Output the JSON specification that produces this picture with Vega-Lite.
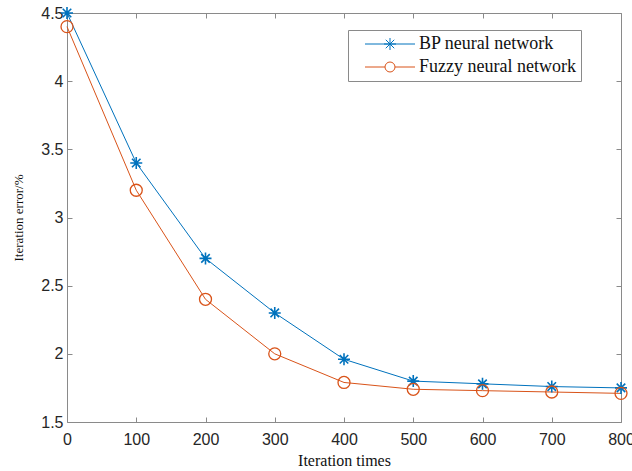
{
  "$schema": "https://vega.github.io/schema/vega-lite/v6.json",
  "width": 554,
  "height": 409,
  "autosize": "none",
  "padding": {"left": 67, "top": 13, "right": 11, "bottom": 49},
  "background": "white",
  "config": {
    "view": {"stroke": null},
    "axis": {
      "grid": false,
      "domainColor": "#8a8a8a",
      "tickColor": "#8a8a8a",
      "labelFont": "Liberation Sans",
      "labelFontSize": 16,
      "labelColor": "#262626",
      "titleFont": "Liberation Serif",
      "titleFontWeight": "normal",
      "titleColor": "#111111"
    }
  },
  "data": {
    "values": [
      {"iter": 0, "err": 4.5, "model": "BP neural network"},
      {"iter": 100, "err": 3.4, "model": "BP neural network"},
      {"iter": 200, "err": 2.7, "model": "BP neural network"},
      {"iter": 300, "err": 2.3, "model": "BP neural network"},
      {"iter": 400, "err": 1.96, "model": "BP neural network"},
      {"iter": 500, "err": 1.8, "model": "BP neural network"},
      {"iter": 600, "err": 1.78, "model": "BP neural network"},
      {"iter": 700, "err": 1.76, "model": "BP neural network"},
      {"iter": 800, "err": 1.75, "model": "BP neural network"},
      {"iter": 0, "err": 4.4, "model": "Fuzzy neural network"},
      {"iter": 100, "err": 3.2, "model": "Fuzzy neural network"},
      {"iter": 200, "err": 2.4, "model": "Fuzzy neural network"},
      {"iter": 300, "err": 2.0, "model": "Fuzzy neural network"},
      {"iter": 400, "err": 1.79, "model": "Fuzzy neural network"},
      {"iter": 500, "err": 1.74, "model": "Fuzzy neural network"},
      {"iter": 600, "err": 1.73, "model": "Fuzzy neural network"},
      {"iter": 700, "err": 1.72, "model": "Fuzzy neural network"},
      {"iter": 800, "err": 1.71, "model": "Fuzzy neural network"}
    ]
  },
  "resolve": {"axis": {"x": "independent", "y": "independent"}},
  "layer": [
    {
      "mark": {"type": "line", "strokeWidth": 1},
      "encoding": {
        "x": {
          "field": "iter", "type": "quantitative",
          "scale": {"domain": [0, 800], "nice": false, "zero": false},
          "axis": {"title": "Iteration times", "titleFontSize": 16, "values": [0,100,200,300,400,500,600,700,800], "tickSize": -5, "labelPadding": 14, "titlePadding": 5, "labelFlush": false}
        },
        "y": {
          "field": "err", "type": "quantitative",
          "scale": {"domain": [1.5, 4.5], "nice": false, "zero": false},
          "axis": {"title": "Iteration error/%", "titleFontSize": 13, "values": [1.5,2,2.5,3,3.5,4,4.5], "format": "~g", "tickSize": -5, "labelPadding": 9, "titlePadding": 15, "labelFlush": false}
        },
        "color": {
          "field": "model", "type": "nominal",
          "scale": {"domain": ["BP neural network", "Fuzzy neural network"], "range": ["#0072BD", "#D95319"]},
          "legend": {
            "title": null,
            "orient": "none",
            "legendX": 281,
            "legendY": 17,
            "strokeColor": "#8a8a8a",
            "fillColor": "white",
            "padding": 5,
            "labelFont": "Liberation Serif",
            "labelFontSize": 18,
            "labelColor": "#111111",
            "symbolSize": 100,
            "symbolStrokeWidth": 1,
            "symbolOffset": 28,
            "labelOffset": 20,
            "rowPadding": 5,
            "encode": {
              "symbols": {
                "update": {
                  "shape": {"signal": "datum.value === 'BP neural network' ? 'M-5,0L5,0M-1.2,0L1.2,0M0,-1.2L0,1.2M-0.85,-0.85L0.85,0.85M-0.85,0.85L0.85,-0.85' : 'M-5,0L-1,0M1,0L5,0M1,0A1,1 0 1,1 -1,0A1,1 0 1,1 1,0'"}
                }
              }
            }
          }
        }
      }
    },
    {
      "transform": [{"filter": "datum.model === 'BP neural network'"}],
      "mark": {"type": "point", "filled": false, "shape": "M-1,0L1,0M0,-1L0,1M-0.71,-0.71L0.71,0.71M-0.71,0.71L0.71,-0.71", "size": 144, "strokeWidth": 1.6, "color": "#0072BD", "opacity": 1},
      "encoding": {
        "x": {"field": "iter", "type": "quantitative", "axis": null},
        "y": {"field": "err", "type": "quantitative", "axis": null}
      }
    },
    {
      "transform": [{"filter": "datum.model === 'Fuzzy neural network'"}],
      "mark": {"type": "point", "filled": false, "shape": "circle", "size": 144, "strokeWidth": 1.3, "color": "#D95319", "opacity": 1},
      "encoding": {
        "x": {"field": "iter", "type": "quantitative", "axis": null},
        "y": {"field": "err", "type": "quantitative", "axis": null}
      }
    },
    {
      "mark": {"type": "point", "opacity": 0},
      "encoding": {
        "x": {"field": "iter", "type": "quantitative", "axis": {"orient": "top", "labels": false, "title": null, "values": [0,100,200,300,400,500,600,700,800], "tickSize": -5}},
        "y": {"field": "err", "type": "quantitative", "axis": {"orient": "right", "labels": false, "title": null, "values": [1.5,2,2.5,3,3.5,4,4.5], "tickSize": -5}}
      }
    }
  ]
}
